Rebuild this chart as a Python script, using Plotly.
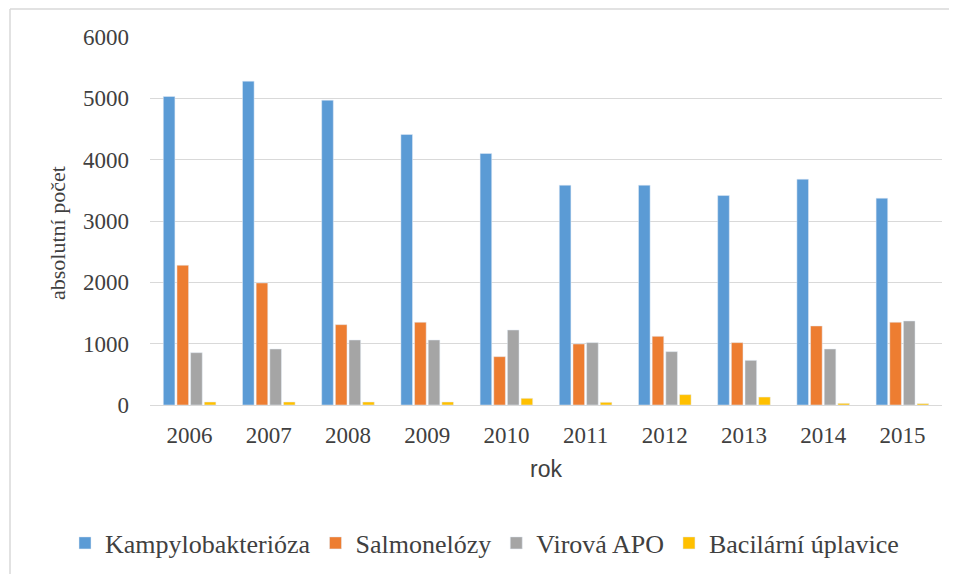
import plotly.graph_objects as go

years = ["2006", "2007", "2008", "2009", "2010", "2011", "2012", "2013", "2014", "2015"]
kampylobakterioza = [5030, 5280, 4970, 4410, 4100, 3584, 3584, 3415, 3682, 3372]
salmonelozy = [2279, 1990, 1310, 1349, 788, 995, 1120, 1017, 1289, 1349]
virova_apo = [853, 913, 1060, 1060, 1223, 1017, 870, 728, 913, 1370]
bacilarni_uplavice = [49, 49, 49, 49, 109, 44, 169, 130, 27, 22]

series_names = ["Kampylobakterióza", "Salmonelózy", "Virová APO", "Bacilární úplavice"]
series_values = [kampylobakterioza, salmonelozy, virova_apo, bacilarni_uplavice]
colors = ["#5B9BD5", "#ED7D31", "#A5A5A5", "#FFC000"]

# page body has an 8px margin, so the figure is drawn at (8, 8) on screen
OFF = 8
W, H = 957 - OFF, 574 - OFF
ml, mr, mt, mb = 150 - OFF, 15, 37 - OFF, 169
pw, ph = W - ml - mr, H - mt - mb

def px_x(sx):
    return (sx - OFF - ml) / pw

def px_y(sy):
    return (mt + ph - (sy - OFF)) / ph

fig = go.Figure()
for name, vals, col in zip(series_names, series_values, colors):
    fig.add_trace(go.Bar(x=years, y=vals, name=name, marker_color=col))

serif = "Liberation Serif, Times New Roman, serif"

fig.update_layout(
    width=W, height=H,
    margin=dict(l=ml, r=mr, t=mt, b=mb, autoexpand=False),
    paper_bgcolor="white", plot_bgcolor="white",
    barmode="group", bargap=0.31, bargroupgap=0.15,
    font=dict(family=serif, size=22, color="#404040"),
    xaxis=dict(
        showgrid=False, showline=False, ticks="", automargin=False,
        tickfont=dict(family=serif, size=23, color="#404040"),
        ticklabelstandoff=14,
        title=dict(text="rok", font=dict(family="Liberation Sans, Arial, sans-serif", size=23, color="#404040"), standoff=13),
    ),
    yaxis=dict(
        range=[0, 6000], dtick=1000, showgrid=True, gridcolor="#D9D9D9", gridwidth=1,
        zeroline=True, zerolinecolor="#D9D9D9", zerolinewidth=1,
        showline=False, ticks="", automargin=False,
        tickfont=dict(family=serif, size=23, color="#404040"),
        ticklabelstandoff=20,
    ),
    showlegend=True,
    legend=dict(
        orientation="h", xanchor="left", yanchor="middle",
        x=px_x(65), y=px_y(543),
        font=dict(family=serif, size=26, color="#404040"),
        traceorder="normal",
    ),
)

# y axis title
fig.add_annotation(text="absolutní počet", textangle=-90, showarrow=False,
                   xref="paper", yref="paper", x=px_x(58), y=px_y(233),
                   xanchor="center", yanchor="middle",
                   font=dict(family=serif, size=22, color="#404040"))

# outer frame lines (top and left)
fig.add_shape(type="line", xref="paper", yref="paper",
              x0=px_x(10), x1=px_x(957), y0=px_y(9), y1=px_y(9),
              line=dict(color="#D9D9D9", width=1.5))
fig.add_shape(type="line", xref="paper", yref="paper",
              x0=px_x(10), x1=px_x(10), y0=px_y(9), y1=px_y(574),
              line=dict(color="#D9D9D9", width=1.5))

fig.write_html("out.html")
